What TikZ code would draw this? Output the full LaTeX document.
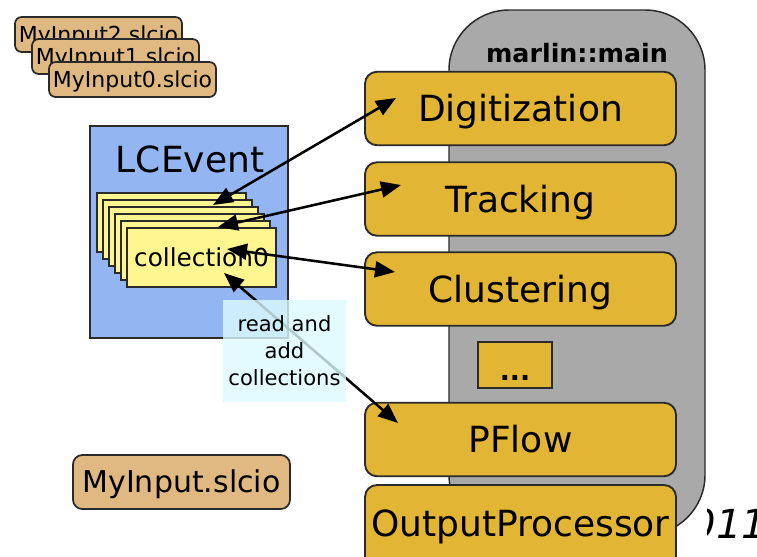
\documentclass[tikz,border=0pt]{standalone}
\usepackage{fontspec}
\setmainfont{DejaVu Sans}
\usetikzlibrary{arrows.meta,calc}
\newlength\pu
\setlength\pu{0.75pt}
\definecolor{gold}{HTML}{E2B534}
\definecolor{tanc}{HTML}{E0B982}
\definecolor{bluec}{HTML}{93B5F2}
\definecolor{yelc}{HTML}{FFF68F}
\definecolor{grayc}{HTML}{A9A9A9}
\definecolor{cyanc}{HTML}{DCFAFF}
\definecolor{edge}{HTML}{2A2A2A}
\tikzset{
  proc/.style={draw=edge, line width=1.4pt, fill=gold, rounded corners=9pt,
    minimum width=311\pu, minimum height=73.5\pu, inner sep=0pt,
    font=\fontsize{27}{32}\selectfont, text height=19.5pt, text depth=0pt},
  filebox/.style={draw=edge, line width=1.3pt, fill=tanc, rounded corners=5pt,
    minimum width=167\pu, minimum height=35\pu, inner sep=0pt,
    font=\fontsize{16.5}{20}\selectfont, text height=12pt, text depth=0pt},
  collbox/.style={draw=edge, line width=1.3pt, fill=yelc,
    minimum width=149\pu, minimum height=59\pu, inner sep=0pt},
  conn/.style={{Triangle[length=15pt,width=12pt]}-{Triangle[length=15pt,width=12pt]},
    line width=1.9pt, black},
}
\begin{document}
\begin{tikzpicture}[x=0.75pt,y=-0.75pt]
\useasboundingbox (0,0) rectangle (757,557);
% year (cropped as in the reference)
\begin{scope}
  \clip (707,470) rectangle (757,557);
  \node[anchor=base west, inner sep=0pt, font=\fontsize{30}{34}\selectfont\itshape] (year) at (665,538) {2011};
\end{scope}
% marlin::main capsule
\node[draw=edge, line width=1.1pt, fill=grayc, rounded corners=45pt,
      minimum width=256\pu, minimum height=525\pu, inner sep=0pt] (main) at (577,272.5) {};
\node[anchor=base, inner sep=0pt, font=\fontsize{19}{22}\selectfont\bfseries] (mainlbl) at (577,62) {marlin::main};
% processors
\node[proc] (dig) at (520.5,108.5) {Digitization};
\node[proc] (trk) at (520.5,199) {Tracking};
\node[proc] (clu) at (520.5,289) {Clustering};
\node[draw=edge, line width=1.1pt, fill=gold, minimum width=74\pu, minimum height=46\pu, inner sep=0pt] (etc) at (515,365) {};
\node[anchor=base, inner sep=0pt, font=\fontsize{20}{24}\selectfont\bfseries] (dots) at (515,380) {...};
\node[proc] (pfl) at (520.5,439.5) {PFlow};
\node[proc, minimum height=85\pu, text depth=6.75pt] (out) at (520.5,527.5) {OutputProcessor};
% input files
\node[filebox] (in2) at (98.5,34.5) {MyInput2.slcio};
\node[filebox] (in1) at (115.5,56.5) {MyInput1.slcio};
\node[filebox] (in0) at (132.5,79.5) {MyInput0.slcio};
\node[draw=edge, line width=1.3pt, fill=tanc, rounded corners=7pt,
      minimum width=217\pu, minimum height=54\pu, inner sep=0pt,
      font=\fontsize{22.5}{26}\selectfont, text height=16.4pt, text depth=0pt] (inp) at (181.5,482) {MyInput.slcio};
% LCEvent
\node[draw=edge, line width=1pt, fill=bluec, minimum width=198\pu, minimum height=212\pu, inner sep=0pt] (lce) at (189,232) {};
\node[anchor=base, inner sep=0pt, font=\fontsize{27}{32}\selectfont] (lcelbl) at (190,172) {LCEvent};
\node[collbox] (c5) at (171.5,222.5) {};
\node[collbox] (c4) at (177.5,229.5) {};
\node[collbox] (c3) at (183.5,236.5) {};
\node[collbox] (c2) at (189.5,243.5) {};
\node[collbox] (c1) at (195.5,250.5) {};
\node[collbox, font=\fontsize{18.6}{22}\selectfont, text height=13.6pt, text depth=0pt] (c0) at (201.5,257.5) {collection0};
% arrow ends
\coordinate (a1s) at (213,205);
\coordinate (a1e) at (396,98);
\coordinate (a2s) at (218,227);
\coordinate (a2e) at (401,185);
\coordinate (a3s) at (227,249);
\coordinate (a3e) at (395,272);
\coordinate (a4s) at (224,273);
\coordinate (a4e) at (398,423);
\draw[conn] (a1s) -- (a1e);
\draw[conn] (a2s) -- (a2e);
\draw[conn] (a3s) -- (a3e);
\draw[conn] (a4s) -- (a4e);
% read and add collections
\node[fill=cyanc, fill opacity=0.8, text opacity=1, minimum width=123\pu, minimum height=102\pu,
      inner sep=0pt, align=center, font=\fontsize{15.8}{20.3}\selectfont] (rw) at (284.5,351)
      {read and\\add\\collections};
\end{tikzpicture}
\end{document}
